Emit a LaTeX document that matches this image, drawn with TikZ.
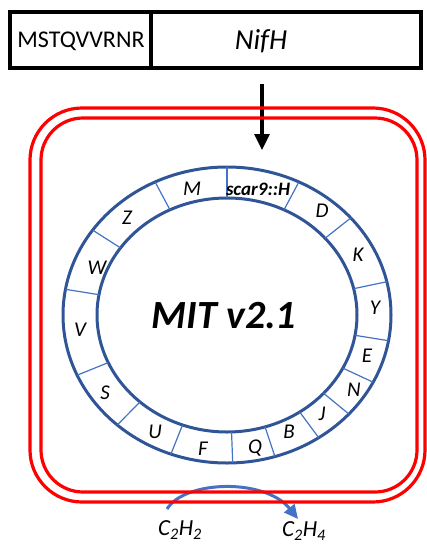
\documentclass[tikz,border=0pt]{standalone}
\usepackage{fontspec}
\setmainfont{Carlito}
\usetikzlibrary{arrows.meta}
\definecolor{ringblue}{HTML}{2F5597}
\definecolor{divblue}{HTML}{4472C4}
\definecolor{arcblue}{HTML}{4472C4}
\tikzset{
  boxline/.style={draw=black, line width=3.2pt},
  redline/.style={draw=red, line width=3.2pt},
  ringline/.style={draw=ringblue, line width=3pt},
  divline/.style={draw=divblue, line width=1.2pt},
  seglabel/.style={font=\fontsize{21}{24}\selectfont\itshape, inner sep=0pt},
}
\begin{document}
\begin{tikzpicture}[x=1pt, y=-1pt]
\useasboundingbox (0,0) rectangle (427,552);
% top sequence box
\draw[boxline] (10,12) rectangle (421,68);
\draw[boxline] (151,12) -- (151,68);
\node[font=\fontsize{24}{28}\selectfont, inner sep=0pt] (seq) at (81,41) {MSTQVVRNR};
\node[font=\fontsize{29}{34}\selectfont\itshape, inner sep=0pt] (nifh) at (261,41) {NifH};
% arrow
\coordinate (astart) at (262,84);
\coordinate (aend) at (262,150);
\draw[line width=3.2pt, -{Triangle[length=16pt, width=15pt]}] (astart) -- (aend);
% blue arc
\coordinate (c2h2end) at (167,509);
\coordinate (c2h4end) at (298,519);
\draw[draw=arcblue, line width=3pt, -{Triangle[length=14pt, width=13pt]}] (c2h2end) .. controls (185,480) and (265,478) .. (c2h4end);
% red cell
\draw[redline, rounded corners=52pt] (30,108) rectangle (425,502);
\draw[redline, rounded corners=42pt] (41,118) rectangle (417,492);
% ring
\draw[ringline] (227,315) ellipse [x radius=164pt, y radius=148pt];
\draw[ringline] (227,315) ellipse [x radius=130pt, y radius=117pt];
\foreach \t in {90,64,41,13,-10,-27,-42,-56,-73,-88,-110,-132,-156,170,145,116}
  \draw[divline] ({227+164*cos(\t)},{315-148*sin(\t)}) -- ({227+130*cos(\t)},{315-117*sin(\t)});
% labels
\node[seglabel] (lM) at (192,189) {M};
\node[seglabel, font=\fontsize{19}{22}\selectfont\bfseries\itshape] (lscar) at (258,189) {scar9::H};
\node[seglabel] (lD) at (322,211) {D};
\node[seglabel] (lK) at (358,255) {K};
\node[seglabel] (lY) at (375,308) {Y};
\node[seglabel] (lE) at (367,356) {E};
\node[seglabel] (lN) at (354,390) {N};
\node[seglabel] (lJ) at (322,414) {J};
\node[seglabel] (lB) at (289,432) {B};
\node[seglabel] (lQ) at (255,448) {Q};
\node[seglabel] (lF) at (203,449) {F};
\node[seglabel] (lU) at (155,432) {U};
\node[seglabel] (lS) at (105,393) {S};
\node[seglabel] (lV) at (80,330) {V};
\node[seglabel] (lW) at (97,268) {W};
\node[seglabel] (lZ) at (127,218) {Z};
\node[font=\fontsize{40}{46}\selectfont\bfseries\itshape, inner sep=0pt] (mit) at (224,316) {MIT v2.1};
% products
\node[font=\fontsize{23}{26}\selectfont\itshape, inner sep=0pt] (c2h2) at (180,530) {C\textsubscript{2}H\textsubscript{2}};
\node[font=\fontsize{23}{26}\selectfont\itshape, inner sep=0pt] (c2h4) at (304,531) {C\textsubscript{2}H\textsubscript{4}};
\end{tikzpicture}
\end{document}
